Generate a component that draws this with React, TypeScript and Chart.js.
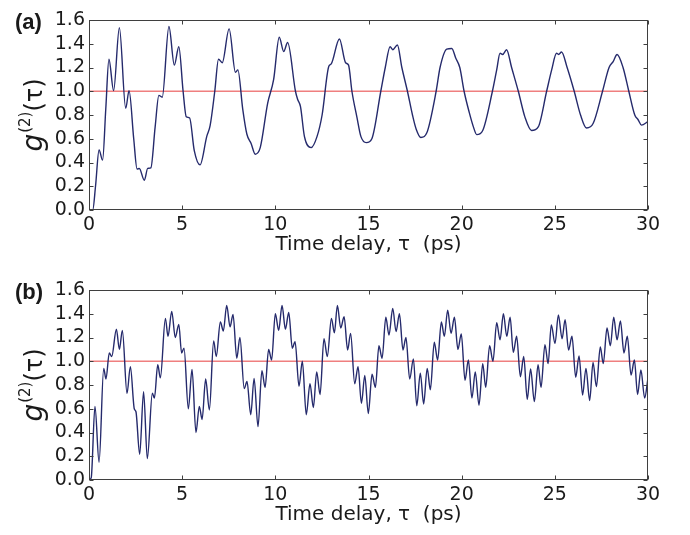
import React, { useEffect, useRef } from "react";
import { Chart, registerables } from "chart.js";

Chart.register(...registerables);

// ---------- data ----------
const timeA = [
  0, 0.2, 0.35, 0.54, 0.73, 0.9, 1.07, 1.32, 1.63, 1.97, 2.15, 2.4, 2.58, 2.7, 2.97, 3.15, 3.32, 3.55,
  3.75, 3.93, 4.29, 4.58, 4.82, 5.05, 5.22, 5.4, 5.65, 5.96, 6.32, 6.5, 6.75, 6.95, 7.15, 7.52, 7.86,
  7.99, 8.25, 8.47, 8.7, 8.92, 9.19, 9.59, 9.91, 10.21, 10.45, 10.66, 11.08, 11.2, 11.35, 11.56, 11.92,
  12.24, 12.51, 12.87, 13.0, 13.44, 13.77, 13.93, 14.11, 14.38, 14.59, 14.88, 15.18, 15.66, 15.9, 16.16,
  16.3, 16.55, 16.79, 17.09, 17.36, 17.56, 17.81, 18.13, 18.63, 18.84, 19.2, 19.47, 19.68, 19.9, 20.13,
  20.41, 20.63, 20.81, 21.13, 21.65, 21.88, 22.06, 22.2, 22.41, 22.68, 23.04, 23.4, 23.75, 24.11, 24.56,
  24.83, 25.09, 25.2, 25.36, 25.66, 26.04, 26.38, 26.7, 27.06, 27.56, 27.91, 28.13, 28.34, 28.66, 28.97,
  29.29, 29.47, 29.65, 30,
];
const g2A = [
  0, 0.0, 0.2, 0.505, 0.42, 0.85, 1.27, 1.005, 1.535, 0.856, 1.005, 0.6, 0.345, 0.35, 0.25, 0.35, 0.355,
  0.7, 0.965, 0.95, 1.545, 1.22, 1.375, 1.0, 0.785, 0.775, 0.5, 0.38, 0.62, 0.71, 1.0, 1.27, 1.24, 1.525,
  1.16, 1.18, 0.85, 0.64, 0.56, 0.47, 0.525, 0.9, 1.1, 1.455, 1.335, 1.41, 1.0, 0.93, 0.87, 0.62, 0.525,
  0.62, 0.8, 1.21, 1.23, 1.44, 1.24, 1.22, 1.0, 0.78, 0.62, 0.567, 0.6, 1.0, 1.2, 1.375, 1.35, 1.39, 1.2,
  1.0, 0.8, 0.68, 0.61, 0.65, 1.0, 1.2, 1.355, 1.36, 1.28, 1.2, 1.0, 0.82, 0.7, 0.635, 0.67, 1.0, 1.18,
  1.32, 1.31, 1.35, 1.2, 1.0, 0.78, 0.67, 0.7, 1.0, 1.18, 1.32, 1.31, 1.33, 1.2, 1.0, 0.8, 0.69, 0.73,
  1.0, 1.2, 1.25, 1.31, 1.2, 1.0, 0.8, 0.76, 0.715, 0.745,
];

const timeB = [
  0, 0.12, 0.32, 0.54, 0.79, 0.91, 1.09, 1.22, 1.47, 1.63, 1.79, 2.04, 2.22, 2.43, 2.52, 2.72, 2.93, 3.13,
  3.4, 3.51, 3.69, 3.83, 4.1, 4.24, 4.44, 4.63, 4.82, 4.97, 5.1, 5.33, 5.53, 5.74, 5.92, 6.07, 6.26, 6.46,
  6.69, 6.83, 7.05, 7.21, 7.39, 7.57, 7.73, 7.93, 8.1, 8.33, 8.48, 8.68, 8.86, 9.07, 9.28, 9.45, 9.64,
  9.8, 10.0, 10.18, 10.36, 10.54, 10.72, 10.91, 11.06, 11.27, 11.45, 11.66, 11.86, 12.04, 12.22, 12.4,
  12.61, 12.79, 13.01, 13.17, 13.33, 13.51, 13.69, 13.88, 14.04, 14.26, 14.44, 14.62, 14.8, 14.99, 15.19,
  15.37, 15.56, 15.73, 15.93, 16.1, 16.3, 16.48, 16.66, 16.85, 17.01, 17.21, 17.41, 17.59, 17.78, 17.96,
  18.15, 18.32, 18.53, 18.71, 18.91, 19.07, 19.25, 19.43, 19.61, 19.8, 19.98, 20.18, 20.36, 20.55, 20.73,
  20.93, 21.13, 21.29, 21.5, 21.68, 21.88, 22.06, 22.24, 22.42, 22.6, 22.77, 22.95, 23.15, 23.33, 23.52,
  23.7, 23.9, 24.1, 24.26, 24.47, 24.64, 24.81, 25.01, 25.19, 25.39, 25.55, 25.74, 25.92, 26.12, 26.3,
  26.49, 26.67, 26.87, 27.05, 27.23, 27.44, 27.6, 27.8, 27.98, 28.16, 28.34, 28.52, 28.71, 28.89, 29.09,
  29.27, 29.44, 29.62, 29.82, 30,
];
const g2B = [
  0, 0.02, 0.62, 0.15, 0.94, 0.85, 1.07, 1.04, 1.27, 1.1, 1.26, 0.73, 0.955, 0.6, 0.575, 0.216, 0.744,
  0.18, 0.73, 0.69, 0.97, 0.86, 1.36, 1.21, 1.42, 1.2, 1.31, 1.07, 1.11, 0.6, 0.93, 0.4, 0.62, 0.51, 0.85,
  0.59, 1.17, 1.04, 1.33, 1.255, 1.47, 1.29, 1.395, 1.025, 1.2, 0.77, 0.83, 0.55, 0.856, 0.45, 0.92, 0.78,
  1.1, 1.01, 1.4, 1.26, 1.47, 1.27, 1.41, 1.11, 1.165, 0.79, 1.0, 0.55, 0.81, 0.61, 0.91, 0.72, 1.19,
  1.04, 1.36, 1.24, 1.47, 1.28, 1.375, 1.095, 1.235, 0.81, 0.955, 0.645, 0.88, 0.56, 0.89, 0.78, 1.13,
  1.025, 1.37, 1.22, 1.445, 1.25, 1.4, 1.095, 1.2, 0.85, 1.02, 0.625, 0.9, 0.64, 0.94, 0.76, 1.16, 1.01,
  1.33, 1.21, 1.43, 1.235, 1.37, 1.1, 1.23, 0.84, 1.01, 0.69, 0.91, 0.63, 0.98, 0.78, 1.13, 1.0, 1.325,
  1.18, 1.4, 1.21, 1.37, 1.075, 1.21, 0.87, 1.04, 0.68, 0.935, 0.66, 0.97, 0.78, 1.14, 0.98, 1.305, 1.15,
  1.39, 1.19, 1.35, 1.095, 1.21, 0.865, 1.045, 0.716, 0.94, 0.67, 0.99, 0.786, 1.12, 0.98, 1.28, 1.13,
  1.37, 1.18, 1.34, 1.07, 1.21, 0.884, 1.01, 0.72, 0.926, 0.69, 0.86,
];

const refLineX = [0, 30];
const refLineY = [1, 1];

const xTickValues = [0, 5, 10, 15, 20, 25, 30];
const yTickValues = [0, 0.2, 0.4, 0.6, 0.8, 1.0, 1.2, 1.4, 1.6];

const xTitle = "Time delay, τ  (ps)";
const yTitleMain = "g";
const yTitleSup = "(2)";
const yTitleArg = "(τ)";
const panelLabels = ["(a)", "(b)"];

// ---------- styling ----------
const FONT = '"DejaVu Sans", Verdana, sans-serif';
const W = 690;
const H = 270;
const LINE_COLOR = "#252a6c";
const REF_COLOR = "#ef7f7f";
const FRAME_COLOR = "#3f3f3f";

const decorPlugin = {
  id: "decor",
  afterDatasetsDraw(chart: any) {
    const { ctx, chartArea } = chart;
    const xs = chart.scales.x;
    const ys = chart.scales.y;
    const L = Math.round(chartArea.left) + 0.5;
    const R = Math.round(chartArea.right) - 0.5;
    const T = Math.round(chartArea.top) + 0.5;
    const B = Math.round(chartArea.bottom) - 0.5;
    ctx.save();
    ctx.strokeStyle = FRAME_COLOR;
    ctx.lineWidth = 1;
    ctx.strokeRect(L, T, R - L, B - T);
    ctx.beginPath();
    for (const v of xTickValues) {
      const px = Math.round(xs.getPixelForValue(v)) + 0.5;
      ctx.moveTo(px, B);
      ctx.lineTo(px, B - 4);
      ctx.moveTo(px, T);
      ctx.lineTo(px, T + 4);
    }
    for (const v of yTickValues) {
      const py = Math.round(ys.getPixelForValue(v)) + 0.5;
      ctx.moveTo(L, py);
      ctx.lineTo(L + 4, py);
      ctx.moveTo(R, py);
      ctx.lineTo(R - 4, py);
    }
    ctx.stroke();
    ctx.restore();
  },
  afterDraw(chart: any, _args: any, opts: any) {
    const { ctx, chartArea } = chart;
    ctx.save();
    // panel label
    ctx.fillStyle = "#1a1a1a";
    ctx.font = 'bold 22px "Liberation Sans", Arial, sans-serif';
    ctx.textAlign = "left";
    ctx.textBaseline = "alphabetic";
    ctx.fillText(opts.label || "", 15, 29);

    // y axis title g^(2)(τ), rotated
    const cy = (chartArea.top + chartArea.bottom) / 2;
    ctx.translate(42, cy);
    ctx.rotate(-Math.PI / 2);
    const fG = `italic 28px ${FONT}`;
    const fS = `15px ${FONT}`;
    const fM = `24px ${FONT}`;
    ctx.font = fG;
    const wG = ctx.measureText(yTitleMain).width;
    ctx.font = fS;
    const wS = ctx.measureText(yTitleSup).width;
    ctx.font = fM;
    const wM = ctx.measureText(yTitleArg).width;
    let x0 = -(wG + wS + wM + 1) / 2;
    ctx.fillStyle = "#1a1a1a";
    ctx.font = fG;
    ctx.fillText(yTitleMain, x0, 0);
    x0 += wG + 1;
    ctx.font = fS;
    ctx.fillText(yTitleSup, x0, -12);
    x0 += wS;
    ctx.font = fM;
    ctx.fillText(yTitleArg, x0, 0);
    ctx.restore();
  },
};

function makeConfig(times: number[], values: number[], label: string): any {
  return {
    type: "line",
    data: {
      datasets: [
        {
          data: times.map((t, i) => ({ x: t, y: values[i] })),
          borderColor: LINE_COLOR,
          borderWidth: 1.4,
          pointRadius: 0,
          cubicInterpolationMode: "monotone",
          fill: false,
        },
        {
          data: refLineX.map((t, i) => ({ x: t, y: refLineY[i] })),
          borderColor: REF_COLOR,
          borderWidth: 1.5,
          pointRadius: 0,
          fill: false,
        },
      ],
    },
    options: {
      animation: false,
      responsive: false,
      devicePixelRatio: 1,
      layout: { padding: { left: 0, right: 42, top: 20, bottom: 0 } },
      plugins: {
        legend: { display: false },
        tooltip: { enabled: false },
        decor: { label },
      },
      scales: {
        x: {
          type: "linear",
          min: 0,
          max: 30,
          afterBuildTicks: (scale: any) => {
            scale.ticks = xTickValues.map((v) => ({ value: v }));
          },
          afterFit: (scale: any) => {
            scale.height = H - 20 - 190;
          },
          grid: { display: false, drawTicks: false },
          border: { display: false },
          ticks: {
            padding: 4,
            autoSkip: false,
            color: "#1a1a1a",
            font: { family: FONT, size: 19 },
            maxRotation: 0,
            callback: (v: any) => String(v),
          },
          title: {
            display: true,
            text: xTitle,
            color: "#1a1a1a",
            font: { family: FONT, size: 20 },
            padding: { top: 0, bottom: 13 },
          },
        },
        y: {
          type: "linear",
          min: 0,
          max: 1.6,
          afterBuildTicks: (scale: any) => {
            scale.ticks = yTickValues.map((v) => ({ value: v }));
          },
          afterFit: (scale: any) => {
            scale.width = 89;
          },
          grid: { display: false, drawTicks: false },
          border: { display: false },
          ticks: {
            padding: 4,
            autoSkip: false,
            color: "#1a1a1a",
            font: { family: FONT, size: 19 },
            callback: (v: any) => Number(v).toFixed(1),
          },
        },
      },
    },
    plugins: [decorPlugin],
  };
}

function Panel({ times, values, label, top }: { times: number[]; values: number[]; label: string; top: number }) {
  const ref = useRef<HTMLCanvasElement | null>(null);
  useEffect(() => {
    if (!ref.current) return;
    const chart = new Chart(ref.current, makeConfig(times, values, label));
    return () => chart.destroy();
  }, [times, values, label]);
  return (
    <canvas
      ref={ref}
      width={W}
      height={H}
      style={{ position: "absolute", left: 0, top, width: W, height: H, display: "block" }}
    />
  );
}

export default function App() {
  return (
    <div
      style={{
        position: "absolute",
        left: 0,
        top: 0,
        width: W,
        height: 535,
        overflow: "hidden",
        background: "#ffffff",
      }}
    >
      <Panel times={timeA} values={g2A} label={panelLabels[0]} top={0} />
      <Panel times={timeB} values={g2B} label={panelLabels[1]} top={270} />
    </div>
  );
}
